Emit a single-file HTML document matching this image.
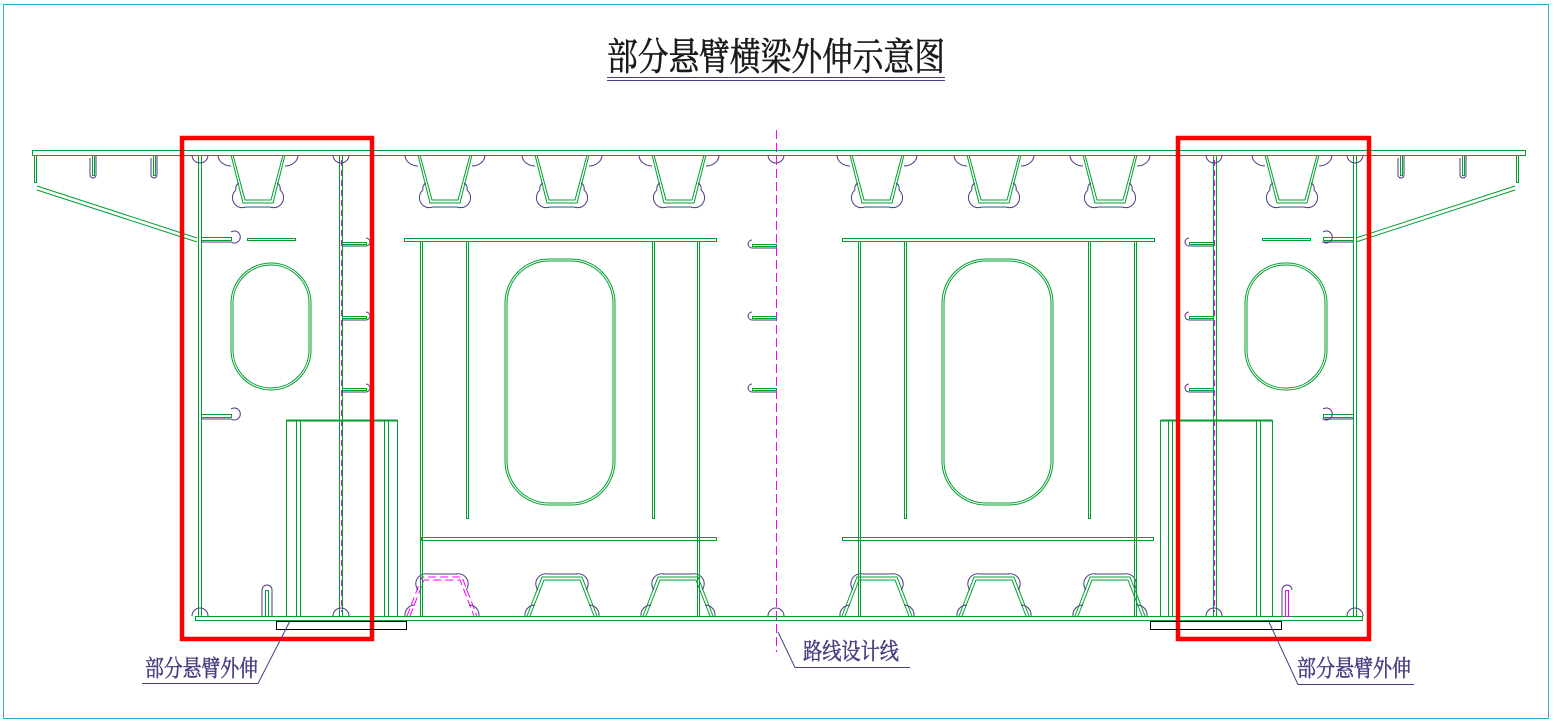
<!DOCTYPE html>
<html><head><meta charset="utf-8"><style>
html,body{margin:0;padding:0;background:#fff;}
svg{display:block;}
text{font-family:"Liberation Serif","Noto Serif CJK SC","Noto Sans CJK SC",serif;}
</style></head><body>
<svg id="s" width="1554" height="725" viewBox="0 0 1554 725" xmlns="http://www.w3.org/2000/svg">
<rect x="3.5" y="4.5" width="1545" height="714" fill="none" stroke="#2aa8dc" stroke-width="1"/>
<text x="607" y="70" textLength="338" lengthAdjust="spacingAndGlyphs" font-size="38" fill="#1a1a1a" stroke="#1a1a1a" stroke-width="0.6">部分悬臂横梁外伸示意图</text>
<line x1="607" y1="77.5" x2="945" y2="77.5" stroke="#4a3c80"/>
<line x1="607" y1="80.5" x2="945" y2="80.5" stroke="#4a3c80"/>
<g id="g" fill="none" stroke="#00a030" stroke-width="1"></g>
<line x1="776.5" y1="130" x2="776.5" y2="652" stroke="#ff00ff" stroke-dasharray="9,4"/>
<rect x="182" y="138" width="190" height="501" fill="none" stroke="#ff0000" stroke-width="4.5"/>
<rect x="1178" y="138" width="191" height="501" fill="none" stroke="#ff0000" stroke-width="4.5"/>
<rect x="276.5" y="621.5" width="130" height="8" fill="none" stroke="#000"/>
<rect x="1150.5" y="621.5" width="131" height="8" fill="none" stroke="#000"/>
<g fill="none" stroke="#4a3c80">
<polyline points="290,621 258,683.5 142,683.5"/>
<polyline points="1268,620 1298,684.5 1414,684.5"/>
<polyline points="778,632 795,667.5 910,667.5"/>
</g>
<g font-size="23" fill="#4a3c80" stroke="#4a3c80" stroke-width="0.5">
<text x="145" y="676" textLength="113" lengthAdjust="spacingAndGlyphs">部分悬臂外伸</text>
<text x="1297" y="676" textLength="114" lengthAdjust="spacingAndGlyphs">部分悬臂外伸</text>
<text x="803" y="659" textLength="96" lengthAdjust="spacingAndGlyphs">路线设计线</text>
</g>
</svg>
<script>
var g=document.getElementById('g'),NS='http://www.w3.org/2000/svg';
function el(t,a,p){var e=document.createElementNS(NS,t);for(var k in a)e.setAttribute(k,a[k]);(p||g).appendChild(e);return e;}
function R(x,y,w,h){return el('rect',{x:x+.5,y:y+.5,width:w,height:h});}
function L(x1,y1,x2,y2,c,sw){return el('line',{x1:x1+.5,y1:y1+.5,x2:x2+.5,y2:y2+.5,stroke:c||'#00a030','stroke-width':sw||1});}
function P(d,c){return el('path',{d:d,stroke:c||'#00a030'});}
var pur='#4a3c80';
R(32,150,1493,5);
R(195,616,1167,4);
R(34,155,2,27); P('M37,186 L197,238 M37,190 L197,242');
R(1516,155,2,27); P('M1515,186 L1356,238 M1515,190 L1356,242');
R(198,155,3,461); R(1353,155,3,461);
R(339,155,3,461); R(1213,155,3,461);
P('M341.5,160 V612','#ff00ff').setAttribute('stroke-dasharray','6,4');
P('M1214.5,160 V612','#ff00ff').setAttribute('stroke-dasharray','6,4');
[92,153,1400,1462].forEach(function(x){R(x,155,2,20);P('M'+(x-2)+',158 V175 a3,3 0 0 0 6,0 V155',pur);});
P('M37,160 a6,6 0 0 0 -0,0',pur);
[258,445,562,679,877,994,1110,1292].forEach(function(c){
 P('M'+(c-27)+',155 L'+(c-15)+',203 H'+(c+15)+' L'+(c+27)+',155');
 P('M'+(c-25)+',155 L'+(c-13)+',200 H'+(c+13)+' L'+(c+25)+',155');
 P('M'+(c-22)+',190 a10,10 0 0 0 10,17 H'+(c+12)+' a10,10 0 0 0 10,-17 a6,6 0 0 0 -3,-7 M'+(c-22)+',190 a6,6 0 0 1 3,-7',pur);
 P('M'+(c-40)+',155 a13,11 0 0 0 13,11 M'+(c+40)+',155 a13,11 0 0 1 -13,11',pur);
});
[442,562,678,877,994,1110].forEach(function(c,i){
 var col=i==0?'#ff00ff':'#00a030';
 var a=P('M'+(c-35)+',616 L'+(c-20)+',577 H'+(c+20)+' L'+(c+35)+',616',col);
 var b=P('M'+(c-32)+',616 L'+(c-18)+',580 H'+(c+18)+' L'+(c+32)+',616',col);
 if(i==0){a.setAttribute('stroke-dasharray','8,4');b.setAttribute('stroke-dasharray','8,4');}
 P('M'+(c-24)+',590 a10,10 0 0 1 10,-16 H'+(c+14)+' a10,10 0 0 1 10,16',pur);
 P('M'+(c-37)+',616 a10,10 0 0 1 10,-11 M'+(c+37)+',616 a10,10 0 0 0 -10,-11',pur);
});
[200,341,776,1214,1355].forEach(function(x){P('M'+(x-8)+',616 a8,8 0 0 1 16,0',pur);P('M'+(x-8)+',155 a8,8 0 0 0 16,0',pur);});
[[201,237,30],[201,414,30],[1353,237,-30],[1353,414,-30]].forEach(function(s){
 var x=s[0],y=s[1],w=s[2];R(Math.min(x,x+w),y,Math.abs(w),3);
 P('M'+x+','+(y+5)+' H'+(x+w)+' a6,6 0 1 0 0,-10',pur);});
[[342,242,24],[342,316,24],[342,388,24],[1213,242,-24],[1213,316,-24],[1213,388,-24],[776,244,-24],[776,316,-24],[776,388,-24]].forEach(function(s){
 var x=s[0],y=s[1],w=s[2];R(Math.min(x,x+w),y,Math.abs(w),2);P('M'+x+','+(y+4)+' H'+(x+w)+' a4,4 0 0 '+(w>0?0:1)+' 0,-8',pur);});
R(247,238,48,2); R(1262,238,48,2);
function oval(x,y,w,h,r){el('rect',{x:x,y:y,width:w,height:h,rx:r,ry:r});el('rect',{x:x+2,y:y+2,width:w-4,height:h-4,rx:r-2,ry:r-2});}
oval(231,263,80,127,40); oval(1245,263,82,127,40);
oval(505,259,110,246,44); oval(942,259,111,246,44);
R(404,238,312,3); R(842,238,312,3);
R(421,537,295,3); R(842,537,311,3);
[420,466,652,697,858,904,1088,1134].forEach(function(x,i){var b=(i==0||i==3||i==4||i==7)?616:518;R(x,241,2,b-241);});
R(286,420,111,196); R(1160,420,112,196);
L(286,420,397,420,'#00a030',2); L(1160,420,1272,420,'#00a030',2);
[296,300,384,388,1168,1172,1256,1260].forEach(function(x){L(x,421,x,616);});
R(265,590,3,26);P('M262,616 V590 a5,5 0 0 1 10,0 V616',pur);
var m=R(1285,590,3,26);m.setAttribute('stroke','#ff00ff');P('M1282,616 V590 a5,5 0 0 1 10,0',pur);
</script>
</body></html>
